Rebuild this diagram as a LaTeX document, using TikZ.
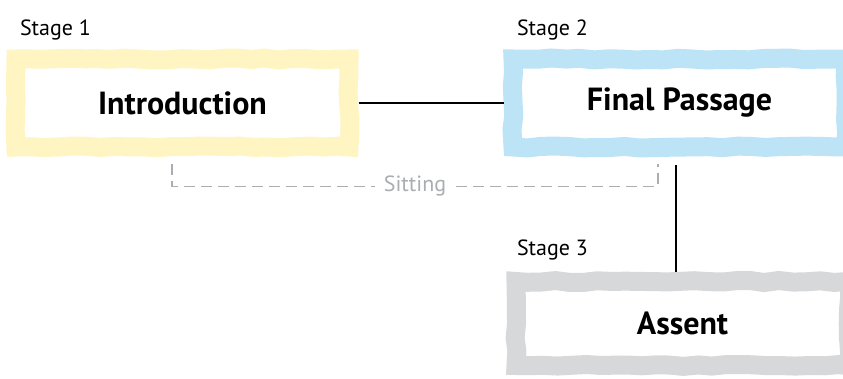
\documentclass[tikz,border=0pt]{standalone}
\usepackage{fontspec}
\setmainfont{PT Sans}
\usetikzlibrary{decorations.pathmorphing}

\definecolor{introyellow}{HTML}{FFF5C3}
\definecolor{passblue}{HTML}{BDE3F6}
\definecolor{assentgray}{HTML}{D7D8DA}
\definecolor{sitgray}{HTML}{AAADB1}

\tikzset{
  brush/.style={draw=#1, line width=19pt, decorate,
    decoration={random steps, segment length=14pt, amplitude=1pt},
    minimum width=333pt, minimum height=88pt,
    font=\fontsize{32}{38}\selectfont\bfseries},
  stagelabel/.style={anchor=base west, font=\fontsize{22}{26}\selectfont},
  sitting/.style={sitgray, line width=1.8pt, dash pattern=on 11pt off 6pt},
}

\begin{document}
\begin{tikzpicture}[x=1pt, y=-1pt]
\useasboundingbox (0, 0) rectangle (843, 379);

\pgfmathsetseed{7}
\node[brush=introyellow] (intro) at (182.5, 103) {Introduction};
\node[brush=passblue] (final) at (679.5, 103) {Final Passage};
\node[brush=assentgray, minimum height=84pt] (assent) at (682.5, 323.5) {Assent};

\node[stagelabel] (stage1) at ([xshift=10pt, yshift=14pt]intro.north west) {Stage 1};
\node[stagelabel] (stage2) at ([xshift=10pt, yshift=14pt]final.north west) {Stage 2};
\node[stagelabel] (stage3) at ([xshift=7pt, yshift=16pt]assent.north west) {Stage 3};

\draw[line width=1.5pt] (intro) -- (final);

\coordinate (drop) at ([xshift=-3.5pt, yshift=-9pt]final.south);
\draw[line width=1.5pt] (drop) -- (drop |- assent.north);

\coordinate (sitA) at ([xshift=-10.5pt, yshift=-8pt]intro.south);
\coordinate (sitB) at ([xshift=-21.5pt, yshift=-8pt]final.south);
\draw[sitting] (sitA) -- ++(0, 22) -| (sitB)
  node[pos=0.25, fill=white, text=sitgray, inner xsep=9pt, inner ysep=2pt,
    font=\fontsize{22}{26}\selectfont] (sit) {Sitting};
\end{tikzpicture}
\end{document}
